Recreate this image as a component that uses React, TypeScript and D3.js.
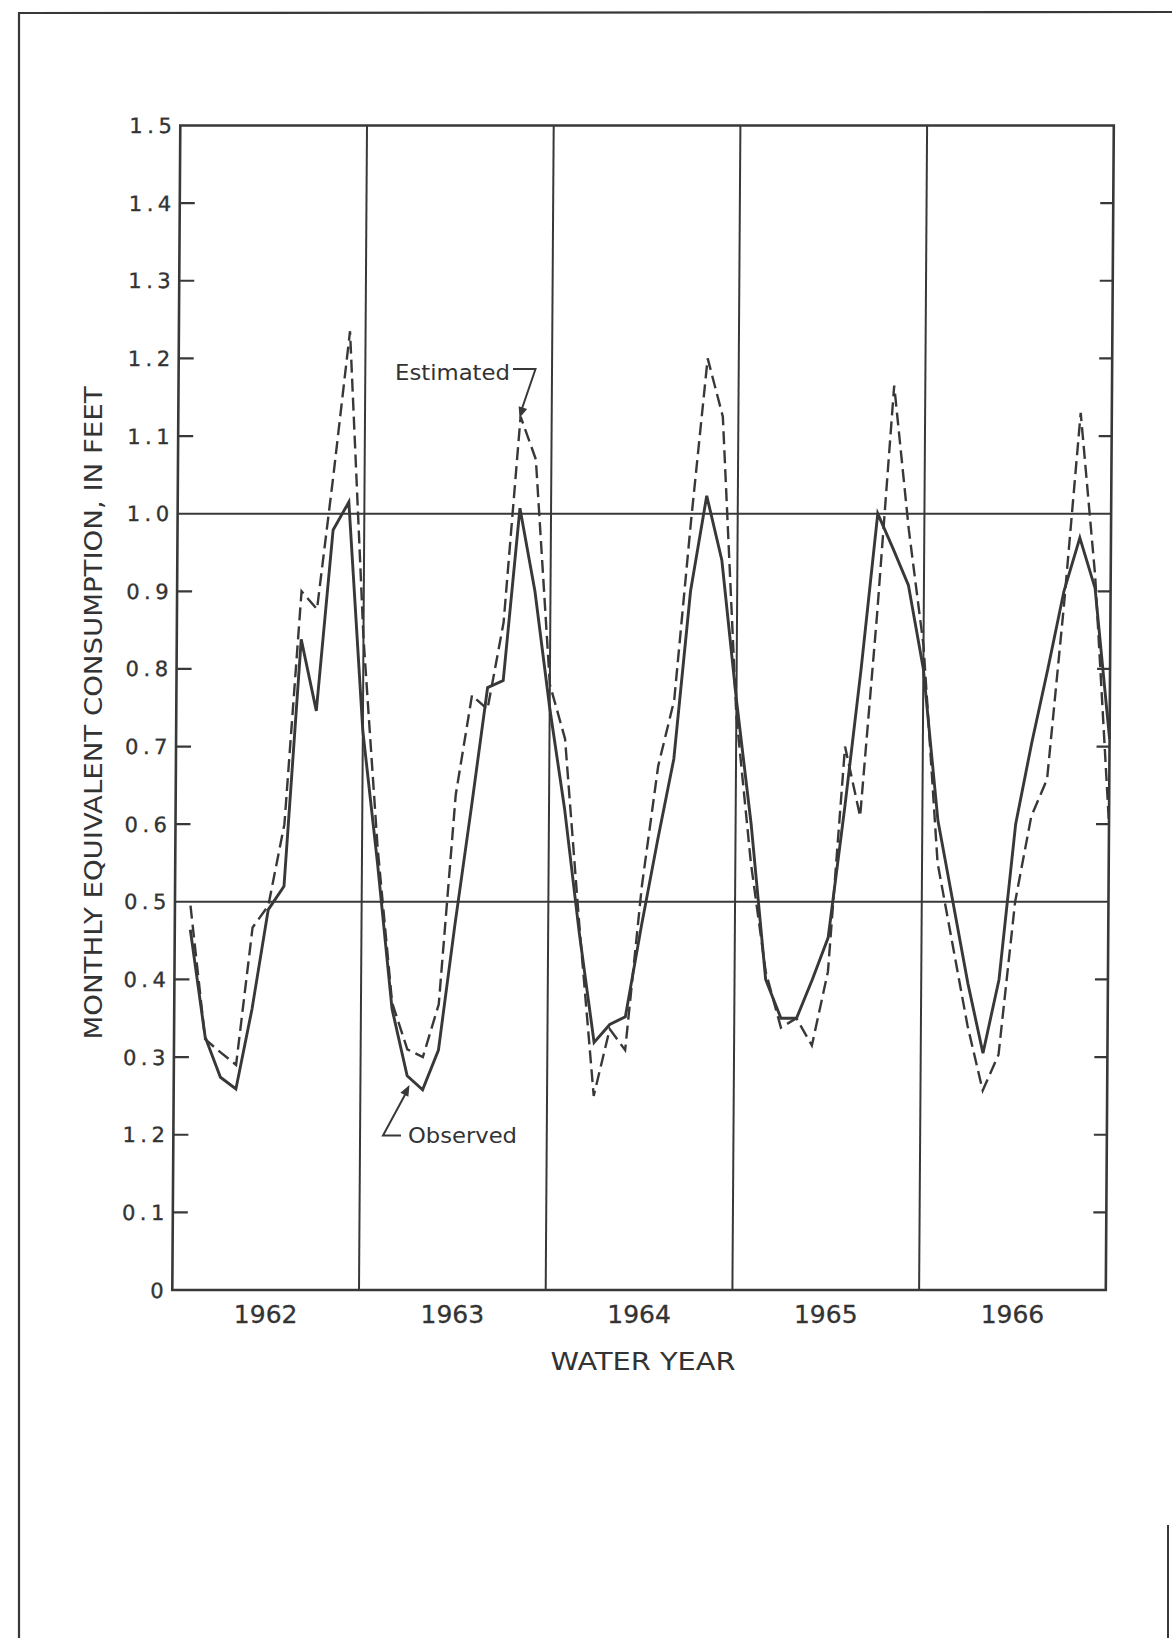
import React, { useEffect } from "react";
import * as d3 from "d3";

// ---- data (monthly values, Oct..Sep of each water year) ----
const years = ["1962", "1963", "1964", "1965", "1966"];

const observed = [
  0.464, 0.326, 0.274, 0.259, 0.362, 0.49, 0.52, 0.838, 0.746, 0.979, 1.015, 0.72,
  0.55, 0.362, 0.276, 0.258, 0.309, 0.47, 0.62, 0.776, 0.785, 1.007, 0.9, 0.75,
  0.62, 0.46, 0.319, 0.342, 0.352, 0.47, 0.58, 0.684, 0.9, 1.023, 0.94, 0.76,
  0.6, 0.4, 0.35, 0.35, 0.4, 0.454, 0.62, 0.8, 1.0, 0.955, 0.908, 0.8,
  0.605, 0.5, 0.395, 0.305, 0.4, 0.6, 0.705, 0.8, 0.9, 0.969, 0.904, 0.71,
];

const estimated = [
  0.495, 0.323, 0.306, 0.29, 0.467, 0.495, 0.6, 0.9, 0.877, 1.05, 1.235, 0.84,
  0.57, 0.37, 0.31, 0.3, 0.368, 0.638, 0.766, 0.748, 0.86, 1.125, 1.07, 0.78,
  0.71, 0.47, 0.25, 0.336, 0.309, 0.52, 0.675, 0.76, 0.99, 1.2, 1.125, 0.74,
  0.55, 0.41, 0.338, 0.35, 0.315, 0.41, 0.7, 0.61, 0.87, 1.165, 0.98, 0.83,
  0.55, 0.445, 0.34, 0.257, 0.303, 0.5, 0.61, 0.658, 0.88, 1.13, 0.92, 0.6,
];

const yTickValues = [0, 0.1, 0.2, 0.3, 0.4, 0.5, 0.6, 0.7, 0.8, 0.9, 1.0, 1.1, 1.2, 1.3, 1.4, 1.5];
const yTickLabels = ["0", "0.1", "1.2", "0.3", "0.4", "0.5", "0.6", "0.7", "0.8", "0.9", "1.0", "1.1", "1.2", "1.3", "1.4", "1.5"];
const gridValues = [0.5, 1.0];

const INK = "#383838";
const FONT = "'DejaVu Sans', Verdana, sans-serif";

function arrowHead(fromX: number, fromY: number, tipX: number, tipY: number, len = 11, half = 4.5) {
  const dx = tipX - fromX;
  const dy = tipY - fromY;
  const d = Math.hypot(dx, dy);
  const ux = dx / d, uy = dy / d;
  const bx = tipX - ux * len, by = tipY - uy * len;
  const px = -uy, py = ux;
  return `${tipX},${tipY} ${bx + px * half},${by + py * half} ${bx - px * half},${by - py * half}`;
}

export default function App() {
  useEffect(() => {
    document.body.style.margin = "0";
    document.body.style.background = "#ffffff";
  }, []);

  const L = 172.3, T = 125.5, W = 933.5, H = 1164.5, slant = 8;
  const skewDeg = (-Math.atan(slant / H) * 180) / Math.PI;

  const x = d3.scaleLinear().domain([0, observed.length]).range([0, W]);
  const y = d3.scaleLinear().domain([0, 1.5]).range([H, 0]);
  const xYear = d3.scaleBand<string>().domain(years).range([L, L + W]);

  const line = d3
    .line<number>()
    .x((_, i) => x(i + 1))
    .y((d) => y(d));

  const boundaries = years.slice(1).map((_, i) => x((i + 1) * 12));
  const minorTicks = yTickValues.filter((v) => v > 0 && v < 1.5 && !gridValues.includes(v));

  // annotation geometry (page coords)
  const estText = { x: 395, y: 379.5 };
  const estLead = { x0: 513, y0: 369, x1: 535.5, tipX: 519.5, tipY: 418 };
  const obsText = { x: 408, y: 1143 };
  const obsLead = { x0: 383, y0: 1135.5, x1: 401, tipX: 409.5, tipY: 1085 };

  return (
    <svg
      width={1172}
      height={1638}
      viewBox="0 0 1172 1638"
      style={{ display: "block", position: "absolute", left: 0, top: 0, background: "#fff" }}
    >
      {/* page frame */}
      <line x1={19} y1={13} x2={1172} y2={12} stroke={INK} strokeWidth={2.2} />
      <line x1={19} y1={12} x2={19} y2={1638} stroke={INK} strokeWidth={2.2} />
      <line x1={1168} y1={1525} x2={1168} y2={1638} stroke={INK} strokeWidth={2} />

      {/* plot (slightly slanted like the scan) */}
      <g transform={`translate(${L + slant},${T}) skewX(${skewDeg})`}>
        {/* horizontal gridlines */}
        {gridValues.map((v) => (
          <line key={"g" + v} x1={0} x2={W} y1={y(v)} y2={y(v)} stroke={INK} strokeWidth={2} />
        ))}
        {/* year dividers */}
        {boundaries.map((bx, i) => (
          <line key={"b" + i} x1={bx} x2={bx} y1={0} y2={H} stroke={INK} strokeWidth={2} />
        ))}
        {/* frame */}
        <rect x={0} y={0} width={W} height={H} fill="none" stroke={INK} strokeWidth={2.6} />
        {/* ticks */}
        {minorTicks.map((v) => (
          <g key={"t" + v}>
            <line x1={0} x2={15} y1={y(v)} y2={y(v)} stroke={INK} strokeWidth={2.2} />
            <line x1={W - 13} x2={W} y1={y(v)} y2={y(v)} stroke={INK} strokeWidth={2.2} />
          </g>
        ))}
        {/* tick labels */}
        {yTickValues.map((v, i) => (
          <text
            key={"l" + v}
            x={-4}
            y={y(v)}
            dy="0.36em"
            textAnchor="end"
            fontFamily={FONT}
            fontSize={21}
            letterSpacing={4.5}
            fill="#333"
            stroke="#333"
            strokeWidth={0.35}
          >
            {yTickLabels[i]}
          </text>
        ))}
        {/* series */}
        <path d={line(estimated) || ""} fill="none" stroke={INK} strokeWidth={2.4} strokeDasharray="13 6" strokeLinejoin="miter" />
        <path d={line(observed) || ""} fill="none" stroke={INK} strokeWidth={2.9} strokeLinejoin="miter" />
      </g>

      {/* x axis year labels */}
      {years.map((yr) => (
        <text
          key={yr}
          x={(xYear(yr) || 0) + xYear.bandwidth() / 2}
          y={1323}
          textAnchor="middle"
          fontFamily={FONT}
          fontSize={25}
          fill="#333"
          stroke="#333"
          strokeWidth={0.3}
        >
          {yr}
        </text>
      ))}
      <text
        x={L + W / 2 + 4}
        y={1370}
        textAnchor="middle"
        fontFamily={FONT}
        fontSize={25}
        textLength={185}
        lengthAdjust="spacingAndGlyphs"
        fill="#333"
      >
        WATER  YEAR
      </text>

      {/* y axis title */}
      <text
        transform={`translate(102,713) rotate(-90)`}
        textAnchor="middle"
        fontFamily={FONT}
        fontSize={25}
        textLength={653}
        lengthAdjust="spacingAndGlyphs"
        fill="#333"
      >
        MONTHLY EQUIVALENT CONSUMPTION, IN FEET
      </text>

      {/* Estimated annotation */}
      <text x={estText.x} y={estText.y} fontFamily={FONT} fontSize={22} textLength={115} lengthAdjust="spacingAndGlyphs" fill="#333">
        Estimated
      </text>
      <polyline
        points={`${estLead.x0},${estLead.y0} ${estLead.x1},${estLead.y0} ${estLead.tipX + 2},${estLead.tipY - 8}`}
        fill="none"
        stroke={INK}
        strokeWidth={2}
      />
      <polygon points={arrowHead(estLead.x1, estLead.y0, estLead.tipX, estLead.tipY)} fill={INK} />

      {/* Observed annotation */}
      <text x={obsText.x} y={obsText.y} fontFamily={FONT} fontSize={22} textLength={109} lengthAdjust="spacingAndGlyphs" fill="#333">
        Observed
      </text>
      <polyline
        points={`${obsLead.x1},${obsLead.y0} ${obsLead.x0},${obsLead.y0} ${obsLead.tipX - 3},${obsLead.tipY + 7}`}
        fill="none"
        stroke={INK}
        strokeWidth={2}
      />
      <polygon points={arrowHead(obsLead.x0, obsLead.y0, obsLead.tipX, obsLead.tipY)} fill={INK} />
    </svg>
  );
}
